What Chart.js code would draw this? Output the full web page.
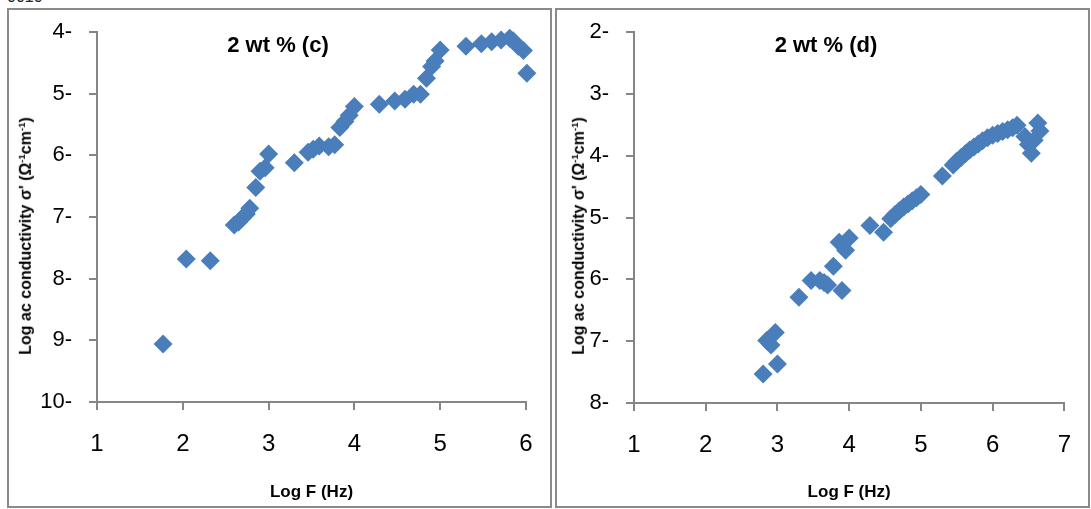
<!DOCTYPE html>
<html>
<head>
<meta charset="utf-8">
<script src="https://cdn.jsdelivr.net/npm/chart.js@4"></script>
<style>
  body { margin: 0; background: #fff; width: 1091px; height: 509px; position: relative; overflow: hidden; font-family: 'Liberation Sans', Arial, sans-serif; }
  .panel { position: absolute; border: 2px solid #8a8a8a; box-sizing: border-box; }
  canvas { position: absolute; top: 0; }
  .ptitle { position: absolute; top: 34px; font-weight: bold; font-size: 22px; line-height: 22px; white-space: nowrap; transform: translateX(-50%); }
  .ytitle { position: absolute; font-weight: bold; font-size: 16px; line-height: 20px; white-space: nowrap; transform: translate(-50%, -50%) rotate(-90deg); }
  .ytitle sup { font-size: 0.6em; }
  .corner { position: absolute; left: 7px; top: -12px; font-size: 16px; color: #222; }
</style>
</head>
<body>
<div class="corner">0010</div>
<div class="panel" style="left:7px; top:8px; width:545px; height:500px;"></div>
<div class="panel" style="left:555px; top:8px; width:535px; height:500px;"></div>

<canvas id="chartC" width="553" height="509" style="left:0px; width:553px; height:509px;"></canvas>
<canvas id="chartD" width="538" height="509" style="left:553px; width:538px; height:509px;"></canvas>

<div class="ptitle" style="left:278px;">2 wt % (c)</div>
<div class="ptitle" style="left:826px;">2 wt % (d)</div>
<div class="ytitle" style="left:24px; top:236px;">Log ac conductivity σ' (Ω<sup>-1</sup>cm<sup>-1</sup>)</div>
<div class="ytitle" style="left:577px; top:236px;">Log ac conductivity σ' (Ω<sup>-1</sup>cm<sup>-1</sup>)</div>

<script>
// panel (c)
const xC = [1.77, 2.04, 2.32, 2.60, 2.65, 2.69, 2.74, 2.78, 2.85, 2.90, 2.96, 3.00, 3.30, 3.46, 3.52, 3.59, 3.70, 3.77,
  3.83, 3.89, 3.94, 4.00, 4.29, 4.47, 4.59, 4.69, 4.77, 4.84, 4.90, 4.94, 5.00, 5.30, 5.48, 5.60, 5.71, 5.81,
  5.85, 5.91, 5.97, 6.01];
const yC = [9.06, 7.68, 7.71, 7.13, 7.08, 7.02, 6.95, 6.86, 6.52, 6.26, 6.20, 5.98, 6.12, 5.95, 5.90, 5.85, 5.86, 5.83,
  5.55, 5.45, 5.35, 5.21, 5.17, 5.12, 5.09, 5.01, 5.01, 4.75, 4.56, 4.47, 4.29, 4.23, 4.19, 4.16, 4.13, 4.10,
  4.14, 4.23, 4.30, 4.67];
const xTicksC = [1, 2, 3, 4, 5, 6];
const yTicksC = [4, 5, 6, 7, 8, 9, 10];
const yLabelsC = ['4-', '5-', '6-', '7-', '8-', '9-', '10-'];

// panel (d)
const xD = [2.80, 2.85, 2.91, 2.97, 3.00, 3.30, 3.47, 3.59, 3.65, 3.70, 3.78, 3.86, 3.90, 3.95, 4.00, 4.29, 4.48,
  4.58, 4.64, 4.70, 4.76, 4.82, 4.88, 4.94, 5.00, 5.30, 5.45, 5.50, 5.56, 5.62, 5.68, 5.74, 5.80, 5.86, 5.93,
  6.00, 6.07, 6.14, 6.21, 6.28, 6.34, 6.45, 6.50, 6.54, 6.58, 6.63, 6.66];
const yD = [7.53, 6.99, 7.06, 6.86, 7.37, 6.29, 6.02, 6.02, 6.05, 6.09, 5.79, 5.40, 6.18, 5.53, 5.33, 5.13, 5.24,
  5.02, 4.95, 4.89, 4.83, 4.78, 4.73, 4.68, 4.63, 4.33, 4.15, 4.09, 4.03, 3.97, 3.91, 3.86, 3.81, 3.76, 3.71,
  3.67, 3.64, 3.61, 3.58, 3.55, 3.51, 3.69, 3.82, 3.96, 3.75, 3.47, 3.60];
const xTicksD = [1, 2, 3, 4, 5, 6, 7];
const yTicksD = [2, 3, 4, 5, 6, 7, 8];
const yLabelsD = ['2-', '3-', '4-', '5-', '6-', '7-', '8-'];

const axisGray = '#868686';
const markerBlue = '#4a7ebb';
const FONT = "'Liberation Sans', Arial, sans-serif";

function makeChart(id, xs, ys, xTicks, yTicks, yLabels, yAxisWidth, xAxisHeight, padRight) {
  const ctx = document.getElementById(id).getContext('2d');
  return new Chart(ctx, {
    type: 'scatter',
    data: {
      datasets: [{
        data: xs.map((x, i) => ({ x: x, y: ys[i] })),
        pointStyle: 'rectRot',
        pointRadius: 9.5,
        pointHoverRadius: 9.5,
        backgroundColor: markerBlue,
        borderWidth: 0,
        clip: false
      }]
    },
    options: {
      responsive: false,
      animation: false,
      events: [],
      layout: { padding: { left: 0, top: 32, right: padRight, bottom: 0 } },
      plugins: { legend: { display: false }, tooltip: { enabled: false } },
      scales: {
        x: {
          type: 'linear',
          min: xTicks[0],
          max: xTicks[xTicks.length - 1],
          afterBuildTicks: s => { s.ticks = xTicks.map(v => ({ value: v })); },
          afterFit: s => { s.height = xAxisHeight; },
          grid: { drawOnChartArea: false, drawTicks: true, tickLength: 8, color: axisGray, lineWidth: 2 },
          border: { display: true, color: axisGray, width: 2 },
          ticks: { color: '#000', padding: 20, font: { family: FONT, size: 24 }, maxRotation: 0 },
          title: {
            display: true,
            text: 'Log F (Hz)',
            color: '#000',
            font: { family: FONT, size: 17, weight: 'bold' },
            padding: { top: 0, bottom: 6 }
          }
        },
        y: {
          type: 'linear',
          reverse: true,
          min: yTicks[0],
          max: yTicks[yTicks.length - 1],
          afterBuildTicks: s => { s.ticks = yTicks.map(v => ({ value: v })); },
          afterFit: s => { s.width = yAxisWidth; },
          grid: { drawOnChartArea: false, drawTicks: true, tickLength: 8, color: axisGray, lineWidth: 2 },
          border: { display: true, color: axisGray, width: 2 },
          ticks: {
            color: '#000',
            padding: 17,
            font: { family: FONT, size: 22 },
            callback: v => yLabels[yTicks.indexOf(v)]
          }
        }
      }
    }
  });
}

makeChart('chartC', xC, yC, xTicksC, yTicksC, yLabelsC, 97, 107, 27);
makeChart('chartD', xD, yD, xTicksD, yTicksD, yLabelsD, 81, 106, 17);
</script>
</body>
</html>
